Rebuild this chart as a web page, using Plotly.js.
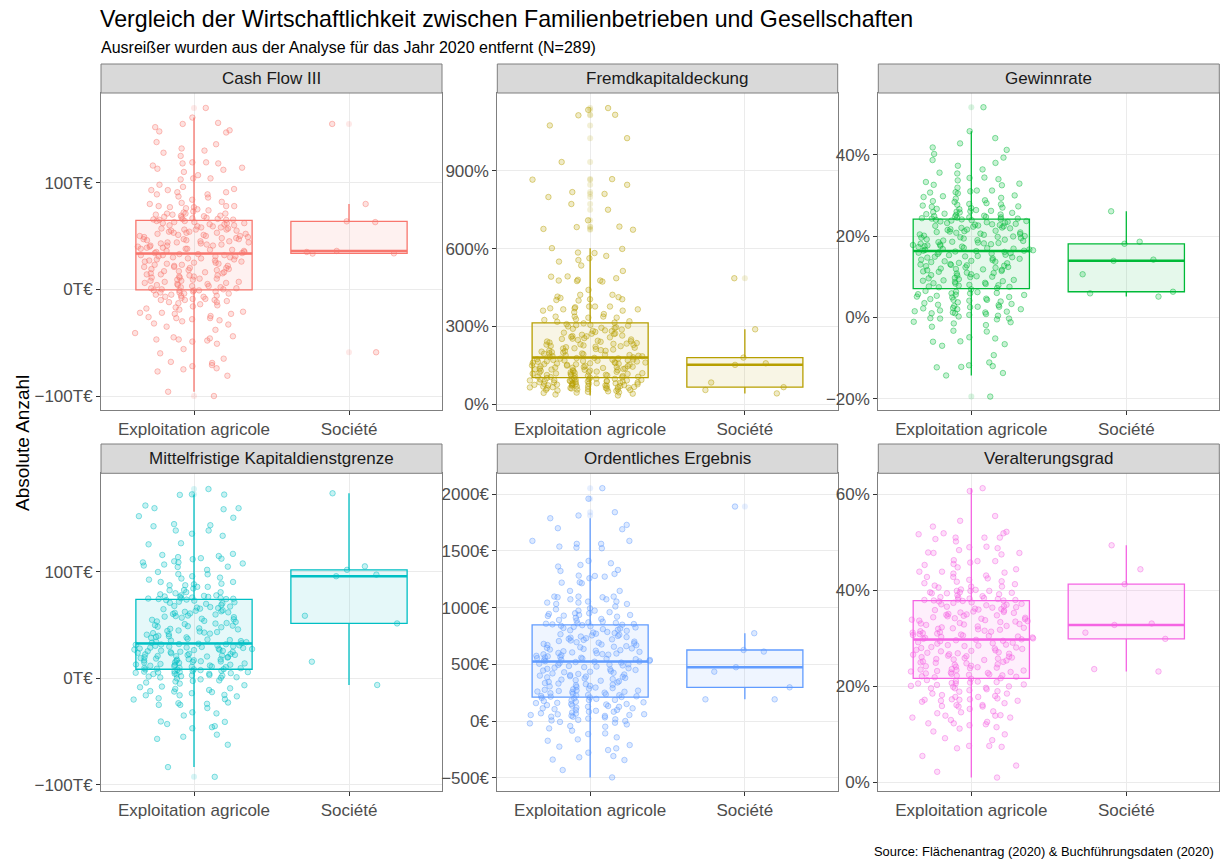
<!DOCTYPE html>
<html><head><meta charset="utf-8">
<script src="https://cdn.plot.ly/plotly-3.0.1.min.js"></script>
<style>html,body{margin:0;padding:0;background:#fff}#chart{width:1222px;height:859px}</style>
</head><body><div id="chart"></div>
<script>
const categories = ['Exploitation agricole', 'Société'];
const panelTitles = ['Cash Flow III', 'Fremdkapitaldeckung', 'Gewinnrate', 'Mittelfristige Kapitaldienstgrenze', 'Ordentliches Ergebnis', 'Veralterungsgrad'];

// Cash Flow III (T€)
const cashFlowFarm = [
-100,-96,-81,-77,-75,-74,-72,-71,-69,-68,-65,-60,-56,-51,-49,-48,-47,-47,-46,-45,
-44,-41,-38,-35,-33,-32,-30,-29,-28,-27,-27,-26,-25,-23,-23,-22,-22,-21,-19,-18,
-17,-16,-15,-14,-13,-12,-12,-11,-10,-10,-10,-9,-9,-8,-7,-7,-6,-6,-5,-5,-4,-4,-3,-3,-2,-2,-1,-1,-1,-1,
0,1,1,2,3,4,4,5,6,7,8,8,9,10,11,12,12,13,14,15,15,16,17,18,18,19,20,21,21,22,
23,23,24,25,26,26,27,28,28,29,30,30,31,31,32,32,33,33,0,2,5,7,10,13,16,19,22,25,27,29,
31,3,6,9,11,14,17,20,24,32,
34,35,35,36,37,38,38,39,40,41,41,42,43,44,44,45,46,47,47,48,49,50,50,51,52,53,53,54,55,56,
56,57,58,59,59,60,61,62,62,63,64,64,36,39,42,45,48,51,54,57,60,63,34,37,40,43,46,49,52,55,
58,61,38,44,50,56,62,41,47,53,
170,161,156,155,152,149,148,147,138,136,132,130,128,125,119,119,118,118,116,114,
113,112,110,107,104,104,103,98,96,94,93,93,91,91,89,89,87,86,84,82,
81,80,78,78,78,77,77,76,75,74,73,72,71,71,71,70,70,69,69,68,68.5,67.5,67,66.5,66,65.8,65.5,65.3,65.2,65.1];
const cashFlowSoc = [-59, 33.5, 33.7, 35, 36, 63, 63.7, 80, 155];

// Fremdkapitaldeckung (%)
const fremdFarm = [
34,38,41,44,46,48,50,52,53,55,56,58,59,60,61,62,63,64,65,66,67,68,69,70,71,72,73,74,75,76,
77,78,79,80,81,82,83,84,85,86,87,88,89,90,91,92,93,94,95,96,97,98,99,100,101,102,45,57,63,70,
74,79,84,88,92,96,66,73,81,90,
104,105,107,108,110,111,113,114,116,117,119,120,122,123,125,126,128,129,131,132,
134,135,137,138,140,141,143,144,146,147,149,150,152,153,155,156,158,159,161,162,
164,165,167,168,170,171,173,174,176,178,106,112,118,124,130,136,142,148,154,160,
166,172,177,109,121,133,145,157,169,179,
181,183,185,187,189,191,193,195,197,199,201,203,205,207,209,211,213,216,218,220,
222,225,227,229,231,234,236,238,241,243,245,248,250,253,255,258,260,263,265,268,
271,273,276,279,282,285,288,291,294,297,300,303,306,309,312,186,196,206,215,224,
233,242,252,262,272,283,295,305,190,230,
1142,1135,1116,1114,1075,1026,934,868,866,846,818,811,799,772,750,709,685,683,676,673,
602,599,585,583,572,563,556,550,535,514,493,492,486,480,477,477,475,473,441,422,
422,415,413,410,405,405,402,400,377,377,377,374,370,370,366,366,361,361,355,348,
338,338,338,334,334,328,325,320,318,315];
const fremdSoc = [42, 55, 66, 84, 152, 158, 180, 289, 486];

// Gewinnrate (%)
const gewinnFarm = [
-19.5,-14.3,-13.7,-12.3,-12.2,-12.0,-11.8,-11.1,-9.3,-7.0,-6.6,-6.0,-5.9,-5.2,-4.9,-3.5,-3.3,-2.3,-1.9,-1.5,
-1.2,-1.1,-0.5,-0.3,-0.3,-0.2,0.2,0.6,0.8,1.0,1.0,1.2,1.2,1.4,1.7,2.0,2.0,2.3,2.5,2.6,
2.6,2.8,3.1,3.3,3.5,3.9,4.1,4.3,4.3,4.6,4.9,5.1,5.3,5.5,5.7,5.9,5.9,6.0,6.2,6.3,
0.4,1.5,2.2,3.0,3.7,4.5,5.0,5.6,6.5,6.9,
11.4,8.2,15.1,9.7,13.3,7.5,12.6,16.0,10.1,14.4,8.9,11.9,15.7,7.2,13.8,10.6,9.1,14.9,12.2,8.5,
16.2,11.0,13.0,7.8,15.4,9.4,12.9,10.3,14.1,8.0,11.6,15.9,13.6,9.9,7.4,12.4,14.7,10.8,16.1,8.7,
13.1,11.2,15.3,9.2,12.0,14.2,7.9,10.4,13.9,11.7,15.0,8.4,12.7,9.6,14.5,10.9,16.3,7.6,13.4,11.3,
15.6,9.0,12.3,14.8,10.0,8.3,13.7,11.8,15.8,12.8,
19.2,22.8,17.1,23.5,20.4,16.6,21.7,18.3,24.0,19.9,17.6,22.1,20.8,16.9,23.2,18.8,21.3,17.3,23.9,19.5,
22.5,18.0,20.1,16.5,21.0,23.7,17.9,19.7,22.3,18.5,20.6,16.8,23.0,21.5,17.5,24.1,19.0,22.0,18.2,20.3,
16.4,21.9,23.4,17.7,19.4,22.6,18.6,20.9,17.0,23.8,21.2,19.8,16.7,22.9,18.1,20.0,23.3,17.4,21.6,19.1,
22.4,18.9,20.5,16.4,23.6,21.1,17.8,19.6,22.7,18.4,
51.7,27.9,33.3,24.6,41.8,26.1,30.7,25.3,38.0,24.3,29.8,35.4,26.7,24.9,44.1,28.4,31.9,25.7,27.2,36.4,
24.5,30.0,26.4,34.3,25.0,29.2,42.8,27.5,24.2,32.6,25.9,28.8,31.2,26.9,39.3,24.7,33.7,27.0,25.5,30.5,
45.8,26.2,29.4,24.4,32.9,27.7,34.0,25.2,28.1,37.3,26.6,31.0,24.8,35.6,27.3,25.8,30.8,41.2,26.0,29.6,
24.3,32.5,28.6,34.4,25.4,40.2,27.8,31.2,38.7,24.6];
const gewinnSoc = [5.1, 5.9, 6.3, 10.6, 13.9, 14.2, 18.1, 18.6, 26.1];

// Mittelfristige Kapitaldienstgrenze (T€)
const kapitalFarm = [
-92.7,-83.5,-62.5,-57,-55,-53,-47,-46,-45,-43,-41,-40.6,-35,-33,-32,-28,-25,-25,-24,-23.4,
-22.8,-20,-19.7,-18.8,-17,-16,-16,-15.6,-14,-13,-12.5,-12,-11,-10,-9.4,-8.4,-7.8,-6.5,-5,-4,
-3,-2,-1,0,0.5,1,1.6,2,2.5,3,3.5,4,4.4,4.8,5.2,5.5,5.9,6.2,6.5,6.8,-2.5,0.8,2.8,4.2,5.8,7.1,7.7,8.0,8.3,8.4,
20,12,28,15,31,9,24,17,26,11,22,30,14,19,27,10,25,32,13,21,29,16,23,8.6,18,26.5,12.5,31.5,20.5,15.5,
24.5,9.5,28.5,17.5,22.5,30.5,11.5,19.5,27.5,14.5,25.5,32.5,10.5,21.5,29.5,16.5,23.5,13.5,18.5,31.8,
26.8,9.8,20.8,15.8,28.8,12.8,24.8,17.8,30.8,22.8,11.8,27.8,19.8,14.8,25.8,32.2,21.8,10.8,29.8,16.8,
52,38,67,44,71,35,59,48,63,41,55,73,36,50,65,43,58,69,34,47,61,54,39,72,45,57,66,37,51,62,
42,70,49,60,33,56,68,40,53,64,46,74,38.5,58.5,44.5,66.5,35.5,51.5,62.5,41.5,
70.5,48.5,55.5,36.5,60.5,43.5,67.5,33.5,53.5,63.5,39.5,71.5,46.5,57.5,65.5,34.5,49.5,61.5,42.5,73.5,
178,173,172.8,172.5,162.5,160,160,159,152.5,151,145,144,143,139,139,136,134,127,126,117,
116,115,114,113,112.5,112,110,109,109,108,107,106,105,104.7,102,100,98,97.8,96,94.7,
93.8,92.8,90.6,90.6,89,88.4,87.5,87.5,86,86,84.5,83,82.8,81,81,80,79,78,78,77.5,
77,76.6,76.6,76,75.5,75.2,75,74.8,74.6,74.5];
const kapitalSoc = [-6.3, 15.6, 51.6, 58.8, 96, 97.5, 102, 105.3, 174];

// Ordentliches Ergebnis (€)
const ergebnisFarm = [
-497,-432,-344,-340,-320,-309,-279,-256,-241,-226,-212,-174,-162,-144,-115,-109,-85,-65,-50,-44,
-30,-21,-15,-8,0,5,15,22,32,38,38,45,47,53,53,59,65,68,75,82,
82,90,98,105,112,112,118,125,126,132,140,146,150,150,158,165,170,176,182,186,
10,60,95,135,160,185,195,200,204,208,
380,250,470,310,515,225,420,290,495,350,265,445,400,215,505,335,280,430,370,240,
485,320,410,230,520,360,275,455,390,212,500,330,260,440,375,220,510,305,415,255,
480,345,285,425,395,235,490,315,270,460,385,245,475,355,295,435,405,228,498,340,
268,450,365,218,523,325,300,465,392,258,
690,560,780,620,835,540,730,600,810,655,575,760,700,530,820,640,590,745,680,555,
795,615,720,545,840,660,585,770,705,535,805,630,570,750,675,525,825,610,710,565,
785,645,595,740,695,550,815,625,580,765,685,538,800,650,605,735,715,558,830,668,
588,775,725,548,845,635,598,755,670,528,
2053,1960,1841,1812,1788,1729,1700,1691,1588,1588,1562,1562,1538,1529,1523,1412,1391,1376,1362,1332,
1323,1297,1282,1279,1273,1259,1223,1220,1215,1147,1147,1097,1097,1097,1091,1091,1073,1073,1053,1053,
1044,1044,1032,1032,1010,994,985,973,973,960,950,950,944,935,935,929,926,920,910,900,
891,885,876,870,865,861,858,855,852,849];
const ergebnisSoc = [191, 191, 297, 435, 474, 612, 626, 774, 1891];

// Veralterungsgrad (%)
const veraltFarm = [
1.0,2.2,3.5,7.1,7.4,7.6,7.6,8.8,10.0,10.6,11.2,11.9,12.1,12.3,12.3,12.6,13.0,13.5,13.5,13.9,
13.9,14.0,14.4,14.6,15.3,15.8,15.8,15.9,16.1,16.1,16.5,17.0,17.0,17.2,17.2,17.3,17.3,17.5,17.8,17.8,
18.2,18.5,18.5,18.9,19.2,19.4,19.6,19.6,19.7,19.9,20.1,20.3,20.4,20.6,20.6,20.7,20.8,20.9,21.0,21.1,
5.5,9.2,11.5,14.8,16.8,18.0,19.0,20.0,21.3,21.6,
25.4,22.5,28.2,23.8,29.5,22.1,26.7,24.3,28.9,25.0,23.1,27.6,26.1,21.9,29.2,24.8,22.8,27.1,25.7,23.4,
28.5,24.0,26.4,22.3,29.7,25.2,23.0,27.9,26.9,21.7,29.0,24.6,22.6,27.3,25.9,23.6,28.7,24.1,26.6,22.9,
28.0,25.5,23.3,27.5,26.2,22.2,29.4,24.5,23.9,27.8,26.0,22.4,28.4,25.1,23.5,27.0,26.8,22.7,29.6,25.6,
23.2,28.1,26.3,22.0,29.1,24.9,24.2,27.4,25.8,28.6,
33.4,30.5,36.2,31.8,37.5,30.1,34.7,32.3,36.9,33.0,31.1,35.6,34.1,29.9,37.2,32.8,30.8,35.1,33.7,31.4,
36.5,32.0,34.4,30.3,37.7,33.2,31.0,35.9,34.9,29.8,37.0,32.6,30.6,35.3,33.9,31.6,36.7,32.1,34.6,30.9,
36.0,33.5,31.3,35.5,34.2,30.2,37.4,32.5,31.9,35.8,34.0,30.4,36.4,33.1,31.5,35.0,34.8,30.7,37.8,33.6,
31.2,36.1,34.3,30.0,37.1,32.9,32.2,35.4,33.8,36.6,
61.3,60.7,55.5,54.5,53.3,52.2,51.9,51.9,51.7,51.0,51.0,51.0,50.7,49.1,49.0,48.4,47.9,47.8,47.8,47.5,
46.3,46.1,46.1,45.5,45.3,44.4,43.9,43.9,43.7,43.5,42.8,42.8,42.2,41.9,41.8,41.3,41.0,40.8,40.8,40.6,
40.2,39.9,39.9,39.9,39.6,39.6,39.5,39.4,39.4,39.2,39.0,38.8,38.6,38.5,38.4,38.3,38.2,38.1,38.0,38.0,
37.9,37.9,40.1,41.5,42.5,43.1,44.8,45.8,48.8,50.2];
const veraltSoc = [23.1, 23.6, 29.9, 31.2, 32.8, 33.1, 41.3, 44.4, 49.4];

// tick labels
const cashFlowTickValues = [-100, 0, 100];
const cashFlowTickLabels = ['−100T€', '0T€', '100T€'];
const fremdTickValues = [0, 300, 600, 900];
const fremdTickLabels = ['0%', '300%', '600%', '900%'];
const gewinnTickValues = [-20, 0, 20, 40];
const gewinnTickLabels = ['−20%', '0%', '20%', '40%'];
const kapitalTickValues = [-100, 0, 100];
const kapitalTickLabels = ['−100T€', '0T€', '100T€'];
const ergebnisTickValues = [-500, 0, 500, 1000, 1500, 2000];
const ergebnisTickLabels = ['−500€', '0€', '500€', '1000€', '1500€', '2000€'];
const veraltTickValues = [0, 20, 40, 60];
const veraltTickLabels = ['0%', '20%', '40%', '60%'];

// ---------- presentation ----------
const W = 1222, H = 859;
const FONT = 'Liberation Sans, Arial, Helvetica, sans-serif';
const colPx = [[101, 442], [497.3, 837.7], [878.3, 1219.3]];
const rowPx = [[93, 410], [473.3, 791]];
const stripTopPx = [64, 444];

const panels = [
  {farm: cashFlowFarm, soc: cashFlowSoc, tv: cashFlowTickValues, tt: cashFlowTickLabels, range: [-113.1, 184], rgb: [248,118,109]},
  {farm: fremdFarm, soc: fremdSoc, tv: fremdTickValues, tt: fremdTickLabels, range: [-22, 1200], rgb: [183,159,0]},
  {farm: gewinnFarm, soc: gewinnSoc, tv: gewinnTickValues, tt: gewinnTickLabels, range: [-22.8, 55.2], rgb: [0,186,56]},
  {farm: kapitalFarm, soc: kapitalSoc, tv: kapitalTickValues, tt: kapitalTickLabels, range: [-106, 192.8], rgb: [0,191,196]},
  {farm: ergebnisFarm, soc: ergebnisSoc, tv: ergebnisTickValues, tt: ergebnisTickLabels, range: [-617, 2184], rgb: [97,156,255]},
  {farm: veraltFarm, soc: veraltSoc, tv: veraltTickValues, tt: veraltTickLabels, range: [-1.8, 64.4], rgb: [245,100,227]}
];

function rgba(c, a) { return 'rgba(' + c[0] + ',' + c[1] + ',' + c[2] + ',' + a + ')'; }
function median(s) { const n = s.length; return n % 2 ? s[(n - 1) / 2] : (s[n / 2 - 1] + s[n / 2]) / 2; }
// split the sorted sample into rank groups of similar density, so Plotly's
// density-scaled jitter spreads evenly across the whole width (like geom_jitter)
const groupFractions = [0, 0.03, 0.08, 0.16, 0.25, 0.75, 0.84, 0.92, 0.97, 1];
function rankGroups(sorted) {
  const n = sorted.length;
  if (n < 40) return [sorted];
  const out = [];
  for (let j = 0; j < groupFractions.length - 1; j++) {
    const s = Math.round(groupFractions[j] * n), e = Math.round(groupFractions[j + 1] * n);
    if (e > s) out.push(sorted.slice(s, e));
  }
  return out;
}

const traces = [];
const shapes = [];
const annotations = [];
const layout = {
  width: W, height: H, autosize: false,
  margin: {l: 0, r: 0, t: 0, b: 0},
  paper_bgcolor: '#ffffff', plot_bgcolor: '#ffffff',
  showlegend: false, boxmode: 'overlay',
  font: {family: FONT, color: '#4D4D4D'},
  title: {text: 'Vergleich der Wirtschaftlichkeit zwischen Familienbetrieben und Gesellschaften',
    x: 100 / W, xref: 'paper', xanchor: 'left', y: 1 - 19 / H, yref: 'container', yanchor: 'middle',
    font: {family: FONT, size: 23.2, color: '#000000'}}
};

panels.forEach((p, i) => {
  const r = Math.floor(i / 3), c = i % 3, n = i + 1;
  const suf = n > 1 ? String(n) : '';
  const xa = 'x' + suf, ya = 'y' + suf;
  const x0 = colPx[c][0] / W, x1 = colPx[c][1] / W;
  const y0 = 1 - rowPx[r][1] / H, y1 = 1 - rowPx[r][0] / H;
  const axisCommon = {
    showgrid: true, gridcolor: '#EBEBEB', gridwidth: 1,
    showline: true, mirror: true, linecolor: '#7F7F7F', linewidth: 1,
    ticks: 'outside', ticklen: 4, tickwidth: 1, tickcolor: '#333333',
    tickfont: {family: FONT, size: 17, color: '#4D4D4D'},
    zeroline: false, fixedrange: true
  };
  layout['xaxis' + suf] = Object.assign({}, axisCommon, {
    domain: [x0, x1], anchor: ya, type: 'category', categoryorder: 'array',
    categoryarray: categories, range: [-0.6, 1.6]
  });
  layout['yaxis' + suf] = Object.assign({}, axisCommon, {
    domain: [y0, y1], anchor: xa, range: p.range, tickvals: p.tv, ticktext: p.tt
  });
  // facet strip
  const sy0 = 1 - rowPx[r][0] / H, sy1 = 1 - stripTopPx[r] / H;
  shapes.push({type: 'rect', xref: 'paper', yref: 'paper', x0: x0, x1: x1, y0: sy0, y1: sy1,
    fillcolor: '#D9D9D9', line: {color: '#7F7F7F', width: 1}});
  annotations.push({xref: 'paper', yref: 'paper', x: (x0 + x1) / 2, y: (sy0 + sy1) / 2,
    xanchor: 'center', yanchor: 'middle', showarrow: false, text: panelTitles[i],
    font: {family: FONT, size: 17, color: '#1A1A1A'}});

  [p.farm, p.soc].forEach((vals, k) => {
    const cat = categories[k];
    const col = rgba(p.rgb, 1);
    // boxplot, outliers drawn faint at the centre
    traces.push({type: 'box', x: vals.map(() => cat), y: vals, xaxis: xa, yaxis: ya,
      width: 0.75, quartilemethod: 'inclusive', boxpoints: 'outliers', jitter: 0, pointpos: 0,
      whiskerwidth: 0, line: {color: col, width: 1.3}, fillcolor: rgba(p.rgb, 0.1),
      marker: {color: rgba(p.rgb, 0.16), size: 6, line: {width: 0}},
      hoverinfo: 'skip', showlegend: false});
    // jittered points
    const sorted = vals.slice().sort((a, b) => a - b);
    rankGroups(sorted).forEach(g => {
      traces.push({type: 'box', x: g.map(() => cat), y: g, xaxis: xa, yaxis: ya,
        width: 0.8, boxpoints: 'all', jitter: 1, pointpos: 0, whiskerwidth: 0,
        line: {color: 'rgba(0,0,0,0)', width: 0}, fillcolor: 'rgba(0,0,0,0)',
        marker: {color: rgba(p.rgb, 0.22), size: 5.5, line: {width: 1, color: rgba(p.rgb, 0.45)}},
        hoverinfo: 'skip', showlegend: false});
    });
    // thicker median line
    const m = median(sorted);
    traces.push({type: 'box', x: [cat], q1: [m], median: [m], q3: [m], lowerfence: [m], upperfence: [m],
      xaxis: xa, yaxis: ya, width: 0.75, boxpoints: false, whiskerwidth: 0,
      line: {color: col, width: 2.5}, fillcolor: 'rgba(0,0,0,0)', hoverinfo: 'skip', showlegend: false});
  });
});

annotations.push({xref: 'paper', yref: 'paper', x: 101 / W, y: 1 - 48 / H, xanchor: 'left', yanchor: 'middle',
  xshift: -2, showarrow: false, text: 'Ausreißer wurden aus der Analyse für das Jahr 2020 entfernt (N=289)',
  font: {family: FONT, size: 16, color: '#000000'}});
annotations.push({xref: 'paper', yref: 'paper', x: 1216 / W, y: 1 - 851 / H, xanchor: 'right', yanchor: 'middle',
  showarrow: false, text: 'Source: Flächenantrag (2020) & Buchführungsdaten (2020)',
  font: {family: FONT, size: 12.9, color: '#000000'}});
annotations.push({xref: 'paper', yref: 'paper', x: 22 / W, y: 1 - 443 / H, xanchor: 'center', yanchor: 'middle',
  showarrow: false, textangle: -90, text: 'Absolute Anzahl',
  font: {family: FONT, size: 19, color: '#000000'}});

layout.shapes = shapes;
layout.annotations = annotations;

Plotly.newPlot('chart', traces, layout, {staticPlot: true, displayModeBar: false, responsive: false});
</script>
</body></html>
